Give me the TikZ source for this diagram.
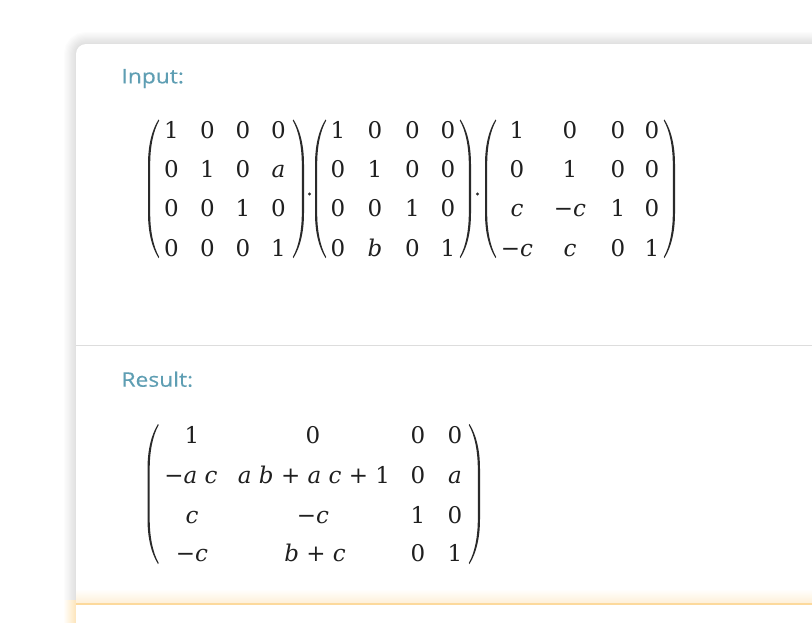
\documentclass[tikz,border=0pt]{standalone}
\usepackage{fontspec}
\newfontfamily\entfont{DejaVu Serif}
\newfontfamily\labfont[FakeStretch=1.14, FakeBold=0.35]{Open Sans}
\definecolor{labcol}{HTML}{5E9EB3}
\definecolor{parcol}{HTML}{2A2A2A}
\definecolor{divcol}{HTML}{DDDDDD}
\definecolor{orcol}{HTML}{FCD99C}
\newcommand\entsize{\entfont\fontsize{23}{23}\selectfont}
\newcommand\V[1]{\textit{#1}}
% paren: outer x, top y, bottom y, direction (1 left, -1 right)
\newcommand\Paren[4]{%
  \begin{scope}[shift={(#1,#2)}, xscale=#4]
    \pgfmathsetmacro\hh{#3-#2}
    \fill[parcol] (10.5,0) .. controls (3,12) and (0,28) .. (0,45)
      -- (0,\hh-45) .. controls (0,\hh-28) and (3,\hh-12) .. (10.5,\hh)
      -- (11.2,\hh-0.9) .. controls (5,\hh-12) and (2.2,\hh-28) .. (2.2,\hh-45)
      -- (2.2,45) .. controls (2.2,28) and (5,12) .. (11.2,0.9) -- cycle;
  \end{scope}}
\newcommand\mrow[3]{%
  \foreach[count=\j] \xx/\ee in {#3} {\node[ent] (#1c\j) at (\xx,#2) {\ee};}}
\begin{document}
\begin{tikzpicture}[x=1pt,y=-1pt,
  ent/.style={anchor=base, inner sep=0pt, font=\entsize, text=black!88},
  lab/.style={anchor=base west, inner sep=0pt, font={\labfont\fontsize{20}{20}\selectfont}, text=labcol},
  mdot/.style={circle, fill=parcol, inner sep=0pt, minimum size=3.4pt}]
\useasboundingbox (0,0) rectangle (812,622);
\fill[white] (0,0) rectangle (812,622);
\begin{scope}
\clip (0,0) rectangle (812,622);
% card shadow
\foreach \i in {1,...,10}
  \draw[black, opacity=0.013, line width={2.4*\i pt}, rounded corners=10] (76,44) rectangle (840,660);
% orange glow at lower left
\shade[left color=white, right color=orcol!70] (63,600) rectangle (76,622);
% card
\fill[white, rounded corners=10] (76,44) rectangle (840,660);
% divider
\draw[divcol, line width=1] (76,345.5) -- (812,345.5);
% bottom orange band
\shade[top color=white, bottom color=orcol!40] (76,589) rectangle (812,603.3);
\draw[orcol, line width=2] (76,604.3) -- (812,604.3);
\end{scope}

% labels
\node[lab] (inlab) at (121.3,83.3) {Input:};
\node[lab] (reslab) at (121.3,386.7) {Result:};

% matrix 1
\Paren{148}{119.5}{258}{1}
\Paren{304}{119.5}{258}{-1}
\mrow{Ar1}{138}{171.5/1, 207.5/0, 243/0, 278.5/0}
\mrow{Ar2}{177}{171.5/0, 207.5/1, 243/0, 278.5/\V{a}}
\mrow{Ar3}{216.5}{171.5/0, 207.5/0, 243/1, 278.5/0}
\mrow{Ar4}{256}{171.5/0, 207.5/0, 243/0, 278.5/1}
\node[mdot] (dot1) at (309.5,194) {};

% matrix 2
\Paren{315}{119.5}{258}{1}
\Paren{471}{119.5}{258}{-1}
\mrow{Br1}{138}{338/1, 375/0, 412.5/0, 448/0}
\mrow{Br2}{177}{338/0, 375/1, 412.5/0, 448/0}
\mrow{Br3}{216.5}{338/0, 375/0, 412.5/1, 448/0}
\mrow{Br4}{256}{338/0, 375/\V{b}, 412.5/0, 448/1}
\node[mdot] (dot2) at (477.5,194) {};

% matrix 3
\Paren{485}{119.5}{258}{1}
\Paren{675}{119.5}{258}{-1}
\mrow{Cr1}{138}{517/1, 570/0, 618/0, 652/0}
\mrow{Cr2}{177}{517/0, 570/1, 618/0, 652/0}
\mrow{Cr3}{216.5}{517/\V{c}, 570/−\V{c}, 618/1, 652/0}
\mrow{Cr4}{256}{517/−\V{c}, 570/\V{c}, 618/0, 652/1}

% result
\Paren{147.5}{424}{564}{1}
\Paren{480}{424}{564}{-1}
\mrow{Rr1}{443}{192/1, 313/0, 418/0, 455/0}
\mrow{Rr2}{483}{191/{−\V{a} \V{c}}, 314/{\V{a} \V{b} + \V{a} \V{c} + 1}, 418/0, 455/\V{a}}
\mrow{Rr3}{523}{192/\V{c}, 313/−\V{c}, 418/1, 455/0}
\mrow{Rr4}{561.5}{192/−\V{c}, 315/{\V{b} + \V{c}}, 418/0, 455/1}
\end{tikzpicture}
\end{document}
